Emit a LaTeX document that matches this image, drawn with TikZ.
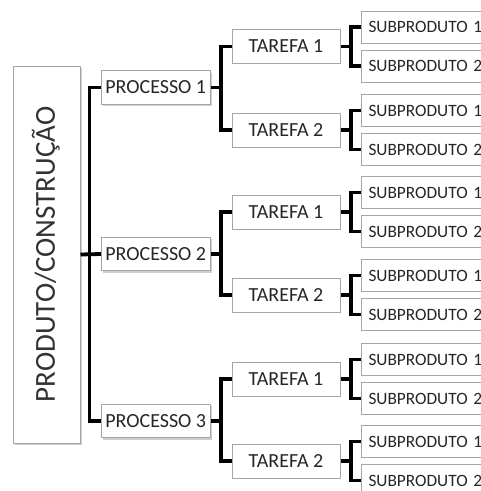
\documentclass[tikz,border=0pt]{standalone}
\usepackage{fontspec}
\setmainfont{Carlito}
\usetikzlibrary{shadows}
\definecolor{boxline}{HTML}{A6A6A6}
\definecolor{ink}{HTML}{262626}
\definecolor{rootink}{HTML}{333333}
\begin{document}
\begin{tikzpicture}[x=1pt,y=-1pt,
  box/.style={draw=boxline, line width=1pt, fill=white, text=ink, inner sep=0pt},
  shade/.style={drop shadow={opacity=0.35, shadow xshift=1.5pt, shadow yshift=-2pt, fill=black!55}},
  rootbox/.style={box, shade, minimum width=67pt, minimum height=377pt},
  rootlabel/.style={rotate=90, anchor=base, text=rootink, inner sep=0pt, font=\fontsize{29}{31}\selectfont},
  procbox/.style={box, shade, minimum width=108.5pt, minimum height=33.5pt, font=\fontsize{20}{22}\selectfont},
  taskbox/.style={box, minimum width=108pt, minimum height=34pt, font=\fontsize{20}{22}\selectfont},
  subbox/.style={box, anchor=west, inner xsep=7pt, text width=126pt, align=left, minimum height=32pt, font=\fontsize{17.3}{19}\selectfont},
  link/.style={line width=3.3pt, draw=black},
  spine/.style={line width=3.8pt, draw=black}
]
\useasboundingbox (0,0) rectangle (481,491);
\fill[white] (0,0) rectangle (481,491);
\clip (0,0) rectangle (481,491);

% root of the breakdown
\node[rootbox] (root) at (46.5,254.5) {};
\node[rootlabel] (rootlbl) at (55,254.5) {PRODUTO/CONSTRUÇÃO};

% processes
\node[procbox] (p1) at (155.75,87.5) {PROCESSO 1};
\node[procbox] (p2) at (155.75,254) {PROCESSO 2};
\node[procbox] (p3) at (155.75,421) {PROCESSO 3};

% tasks and their sub-products
\foreach \i/\y/\t in {1/46.5/1, 2/130/2, 3/212/1, 4/295/2, 5/379/1, 6/461/2}{
  \node[taskbox] (t\i) at (286,\y) {TAREFA \t};
  \node[subbox] (s\i a) at (361,\y-19.5) {SUBPRODUTO 1};
  \node[subbox] (s\i b) at (361,\y+19.5) {SUBPRODUTO 2};
}

% main spine
\draw[spine] (p1.west) -- ++(-11.5,0) |- (p3.west);
\draw[spine] (root.east) -- (p2.west);

% process to task brackets
\foreach \p/\a/\b in {p1/t1/t2, p2/t3/t4, p3/t5/t6}{
  \draw[link] (\p.east) -- ++(10.5,0) |- (\a.west);
  \draw[link] (\p.east) ++(10.5,0) |- (\b.west);
}

% task to sub-product brackets
\foreach \i in {1,...,6}{
  \draw[link] (t\i.east) -- ++(10.5,0) |- (s\i a.west);
  \draw[link] (t\i.east) ++(10.5,0) |- (s\i b.west);
}
\end{tikzpicture}
\end{document}
